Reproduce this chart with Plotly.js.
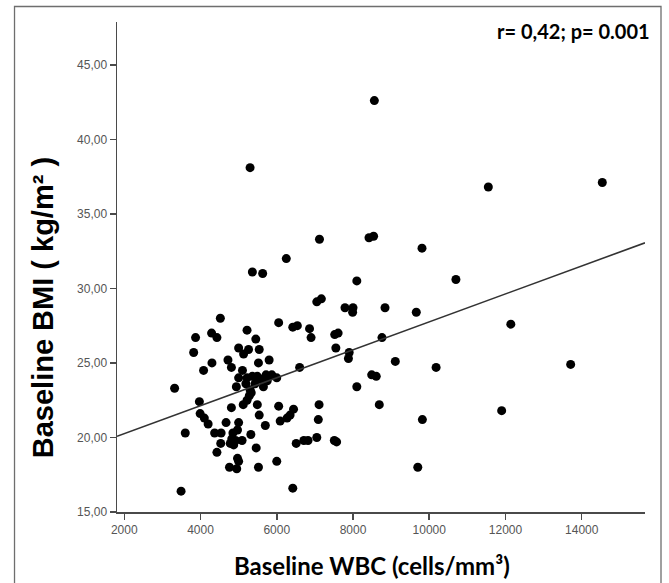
<!DOCTYPE html>
<html>
<head>
<meta charset="utf-8">
<script src="https://cdn.plot.ly/plotly-3.0.1.min.js"></script>
<style>
  html, body { margin: 0; padding: 0; background: #ffffff; }
  #chart { width: 669px; height: 583px; }
</style>
</head>
<body>
<div id="chart"></div>
<script>
// Baseline WBC (cells/mm3)
const wbc = [
  3320, 3490, 3600, 3820, 3870, 3970, 3990, 4100, 4200, 4080,
  4300, 4290, 4430, 4520, 4370, 4540, 4530, 4430, 4670, 4720,
  4810, 4810, 4760, 4950, 4970, 5000, 5000, 4970, 4850, 4820,
  4920, 4780, 4870, 5090, 5320, 5460, 5520, 5120, 5220, 5280,
  5330, 5490, 5540, 5700, 5220, 5450, 5000, 5130, 5260, 5540,
  5800, 5520, 5100, 5000, 4940,
  5220, 5360, 5490, 5590, 5720, 5870, 6000, 5430, 5650, 5190, 5300, 5750,
  6050, 6420, 6540, 6860, 6900, 6600, 7050, 7170, 7520, 7610,
  7550, 6050, 6090, 6270, 6350, 6440, 6000, 6420, 7110, 7090,
  7050, 6510, 6710, 6820, 7510, 7570,
  7790, 8000, 7990, 8840, 9660, 7900, 7880, 8760, 9110, 10180,
  12140, 13710, 8490, 8610, 8100, 8690, 9820, 11900, 9700,
  8560, 11550, 14540, 8420, 8540, 9810, 8100, 10700,
  5300, 7120, 6250, 5360, 5630
];
// Baseline BMI (kg/m2)
const bmi = [
  23.3, 16.4, 20.3, 25.7, 26.7, 22.4, 21.6, 21.3, 20.9, 24.5,
  25.0, 27.0, 26.7, 28.0, 20.3, 20.3, 19.6, 19.0, 21.0, 25.2,
  24.7, 22.0, 18.0, 17.9, 18.6, 18.4, 21.0, 20.5, 20.3, 19.9,
  19.8, 19.6, 19.5, 19.8, 20.2, 19.3, 18.0, 22.2, 22.5, 22.8,
  23.0, 22.2, 21.5, 20.8, 27.2, 26.6, 26.0, 25.6, 25.9, 25.9,
  25.2, 25.0, 24.5, 24.0, 23.4,
  24.0, 24.1, 24.1, 23.9, 24.2, 24.2, 24.0, 23.6, 23.4, 23.6, 23.2, 23.8,
  27.7, 27.4, 27.5, 27.3, 26.7, 24.7, 29.1, 29.3, 26.9, 27.0,
  26.0, 22.1, 21.1, 21.3, 21.5, 21.9, 18.4, 16.6, 22.2, 21.2,
  20.0, 19.6, 19.8, 19.8, 19.8, 19.7,
  28.7, 28.7, 28.4, 28.7, 28.4, 25.7, 25.3, 26.7, 25.1, 24.7,
  27.6, 24.9, 24.2, 24.1, 23.4, 22.2, 21.2, 21.8, 18.0,
  42.6, 36.8, 37.1, 33.4, 33.5, 32.7, 30.5, 30.6,
  38.1, 33.3, 32.0, 31.1, 31.0
];

// Linear fit line (as drawn in the reference)
const fitIntercept = 18.385;
const fitSlope = 0.000937;

// Axis ticks
const xTickVals = [2000, 4000, 6000, 8000, 10000, 12000, 14000];
const xTickText = ['2000', '4000', '6000', '8000', '10000', '12000', '14000'];
const yTickVals = [15, 20, 25, 30, 35, 40, 45];
const yTickText = ['15,00', '20,00', '25,00', '30,00', '35,00', '40,00', '45,00'];

const xRange = [1809, 15660];
const yRange = [15, 47.87];

const fitX = xRange.slice();
const fitY = fitX.map(v => fitIntercept + fitSlope * v);

const traces = [
  {
    type: 'scatter', mode: 'markers', x: wbc, y: bmi,
    marker: { color: '#000000', size: 9 },
    hoverinfo: 'skip', cliponaxis: false
  },
  {
    type: 'scatter', mode: 'lines', x: fitX, y: fitY,
    line: { color: '#333333', width: 1.6 },
    hoverinfo: 'skip'
  }
];

const axisCommon = {
  showgrid: false, zeroline: false, showline: true,
  linecolor: '#4a4a4a', linewidth: 1.5,
  ticks: 'outside', tickcolor: '#4a4a4a', tickwidth: 1.5,
  tickfont: { family: 'Liberation Sans, Arial, sans-serif', size: 12, color: '#555555' }
};

const layout = {
  width: 669, height: 583,
  margin: { l: 117, r: 24, t: 22, b: 71 },
  paper_bgcolor: '#ffffff', plot_bgcolor: '#ffffff',
  showlegend: false,
  xaxis: Object.assign({}, axisCommon, {
    range: xRange, tickmode: 'array', tickvals: xTickVals, ticktext: xTickText,
    ticklen: 6
  }),
  yaxis: Object.assign({}, axisCommon, {
    range: yRange, tickmode: 'array', tickvals: yTickVals, ticktext: yTickText,
    ticklen: 6
  }),
  annotations: [
    {
      xref: 'paper', yref: 'paper', x: 1.0133, y: 0.982,
      xanchor: 'right', yanchor: 'middle', showarrow: false,
      text: '<b>r= 0,42; p= 0.001</b>',
      font: { family: 'Lato, Open Sans, sans-serif', size: 20, color: '#000000' }
    },
    {
      xref: 'paper', yref: 'paper', x: 0.483, y: -0.110,
      xanchor: 'center', yanchor: 'middle', showarrow: false,
      text: '<b>Baseline WBC (cells/mm³)</b>',
      font: { family: 'Lato, Open Sans, sans-serif', size: 24, color: '#000000' }
    },
    {
      xref: 'paper', yref: 'paper', x: -0.140, y: 0.416,
      xanchor: 'center', yanchor: 'middle', showarrow: false, textangle: -90,
      text: '<b>Baseline BMI ( kg/m² )</b>',
      font: { family: 'Liberation Sans, Arial, sans-serif', size: 29, color: '#000000' }
    }
  ],
  shapes: [
    {
      type: 'rect', xref: 'paper', yref: 'paper',
      x0: -0.1941, x1: 1.0303, y0: -0.2, y1: 1.0316,
      line: { color: '#6e6e6e', width: 1.3 }, fillcolor: 'rgba(0,0,0,0)', layer: 'below'
    }
  ]
};

Plotly.newPlot('chart', traces, layout, { displayModeBar: false, staticPlot: true });
</script>
</body>
</html>
